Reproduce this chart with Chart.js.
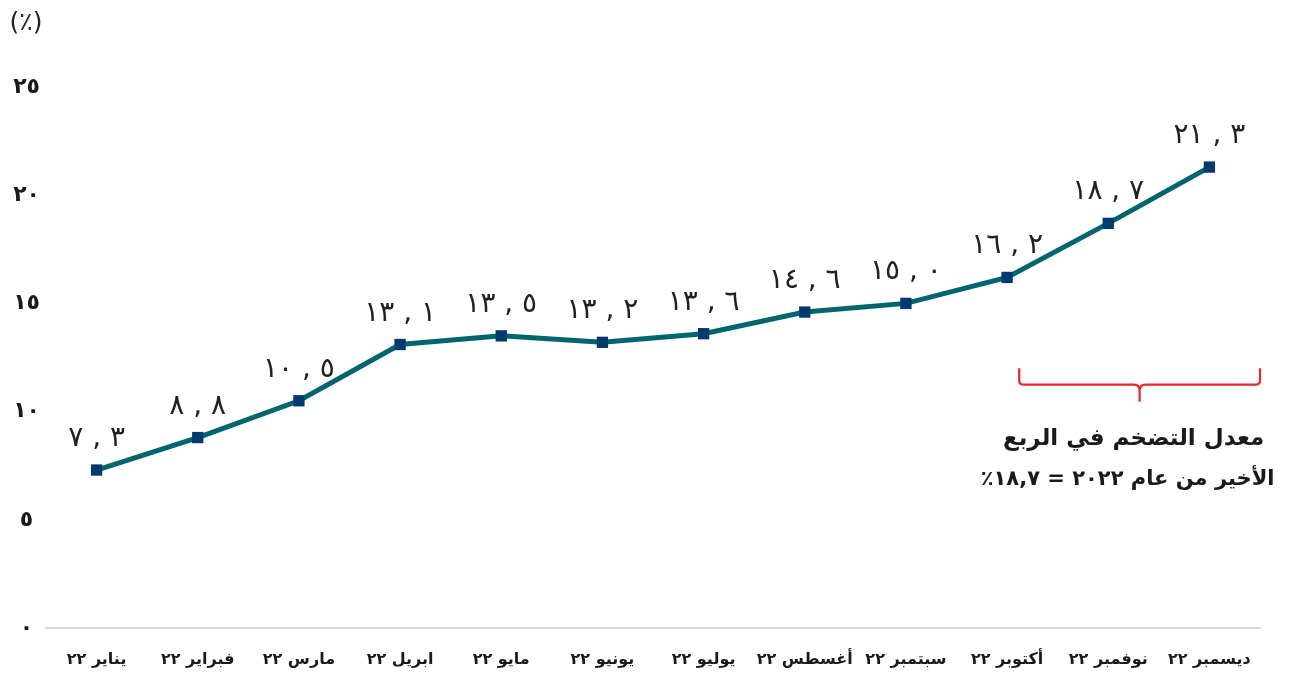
<!DOCTYPE html>
<html lang="ar">
<head>
<meta charset="utf-8">
<script src="https://cdn.jsdelivr.net/npm/chart.js@4.4.1/dist/chart.umd.min.js"></script>
<style>
  body { margin: 0; background: #fff; }
  #wrap { width: 1304px; height: 676px; position: relative; }
</style>
</head>
<body>
<div id="wrap"><canvas id="chart"></canvas></div>
<script>
// التضخم الشهري 2022
const months = ['يناير ٢٢', 'فبراير ٢٢', 'مارس ٢٢', 'ابريل ٢٢', 'مايو ٢٢', 'يونيو ٢٢',
    'يوليو ٢٢', 'أغسطس ٢٢', 'سبتمبر ٢٢', 'أكتوبر ٢٢', 'نوفمبر ٢٢', 'ديسمبر ٢٢'];
const inflation = [7.3, 8.8, 10.5, 13.1, 13.5, 13.2, 13.6, 14.6, 15.0, 16.2, 18.7, 21.3];
const yTicks = [0, 5, 10, 15, 20, 25];
const unitLabel = '(٪)';
const noteLines = ['معدل التضخم في الربع', 'الأخير من عام ٢٠٢٢ = ١٨,٧٪'];
const noteFrom = 9;   // أكتوبر
const noteTo = 11;    // ديسمبر

const arabicFont = '"DejaVu Sans", sans-serif';

function toArabic(n) {
    return String(n).replace(/[0-9]/g, d => '٠١٢٣٤٥٦٧٨٩'[d]);
}

function valueText(v) {
    var parts = v.toFixed(1).split('.');
    return toArabic(parts[0]) + '\u200E , \u200E' + toArabic(parts[1]);
}

// القيم فوق كل نقطة
var pointLabels = {
    id: 'pointLabels',
    afterDatasetsDraw(chart) {
        var ctx = chart.ctx;
        var meta = chart.getDatasetMeta(0);
        ctx.save();
        ctx.font = '28px ' + arabicFont;
        ctx.fillStyle = '#222';
        ctx.textAlign = 'center';
        ctx.textBaseline = 'alphabetic';
        ctx.direction = 'ltr';
        meta.data.forEach(function(pt, i) {
            ctx.fillText(valueText(inflation[i]), pt.x, pt.y - 24);
        });
        ctx.restore();
    }
};

// القوس الأحمر والملاحظة
var quarterNote = {
    id: 'quarterNote',
    afterDraw(chart) {
        var ctx = chart.ctx;
        var x = chart.scales.x, y = chart.scales.y;
        var step = x.getPixelForValue(1) - x.getPixelForValue(0);
        var left = x.getPixelForValue(noteFrom) + step * 0.12;
        var right = x.getPixelForValue(noteTo) + step * 0.5;
        var top = y.getPixelForValue(12);
        var mid = y.getPixelForValue(11.25);
        var tip = y.getPixelForValue(10.45);
        var cx = (left + right) / 2;
        var r = 4;

        ctx.save();
        ctx.strokeStyle = '#e8262b';
        ctx.lineWidth = 2.2;
        ctx.beginPath();
        ctx.moveTo(left, top);
        ctx.lineTo(left, mid - r);
        ctx.quadraticCurveTo(left, mid, left + r, mid);
        ctx.lineTo(cx - 6, mid);
        ctx.quadraticCurveTo(cx, mid, cx, mid + 6);
        ctx.lineTo(cx, tip);
        ctx.moveTo(cx, mid + 6);
        ctx.quadraticCurveTo(cx, mid, cx + 6, mid);
        ctx.lineTo(right - r, mid);
        ctx.quadraticCurveTo(right, mid, right, mid - r);
        ctx.lineTo(right, top);
        ctx.stroke();

        ctx.fillStyle = '#1a1a1a';
        ctx.textAlign = 'center';
        ctx.textBaseline = 'middle';
        ctx.direction = 'rtl';
        ctx.font = 'bold 23px ' + arabicFont;
        ctx.fillText(noteLines[0], cx - 6, tip + 37);
        ctx.font = 'bold 21px ' + arabicFont;
        ctx.fillText(noteLines[1], cx - 12, tip + 78);

        // وحدة المحور
        ctx.font = '25px ' + arabicFont;
        ctx.direction = 'ltr';
        ctx.fillStyle = '#222';
        ctx.fillText(unitLabel, 26, 23);
        ctx.restore();
    }
};

new Chart(document.getElementById('chart'), {
    type: 'line',
    data: {
        labels: months,
        datasets: [{
            data: inflation,
            borderColor: '#00666e',
            borderWidth: 5,
            pointStyle: 'rect',
            pointRadius: 8,
            pointHoverRadius: 8,
            pointBackgroundColor: '#003a6e',
            pointBorderColor: '#003a6e',
            pointBorderWidth: 0,
            tension: 0
        }]
    },
    options: {
        responsive: true,
        maintainAspectRatio: false,
        animation: false,
        layout: { padding: { top: 87, right: 44, bottom: 0, left: 0 } },
        plugins: {
            legend: { display: false },
            tooltip: { enabled: false }
        },
        scales: {
            x: {
                offset: true,
                afterFit(scale) { scale.height = 48; },
                grid: { display: false, drawTicks: false },
                border: { color: '#d9d9d9', width: 2 },
                ticks: {
                    color: '#1a1a1a',
                    padding: 22,
                    maxRotation: 0,
                    autoSkip: false,
                    font: { family: arabicFont, size: 16, weight: 'bold' }
                }
            },
            y: {
                min: 0,
                max: 25,
                afterBuildTicks(scale) {
                    scale.ticks = yTicks.map(v => ({ value: v }));
                },
                afterFit(scale) { scale.width = 46; },
                grid: { display: false, drawTicks: false },
                border: { display: false },
                ticks: {
                    color: '#1a1a1a',
                    crossAlign: 'center',
                    padding: 6,
                    font: { family: arabicFont, size: 22, weight: 'bold' },
                    callback: v => toArabic(v)
                }
            }
        }
    },
    plugins: [pointLabels, quarterNote]
});
</script>
</body>
</html>
